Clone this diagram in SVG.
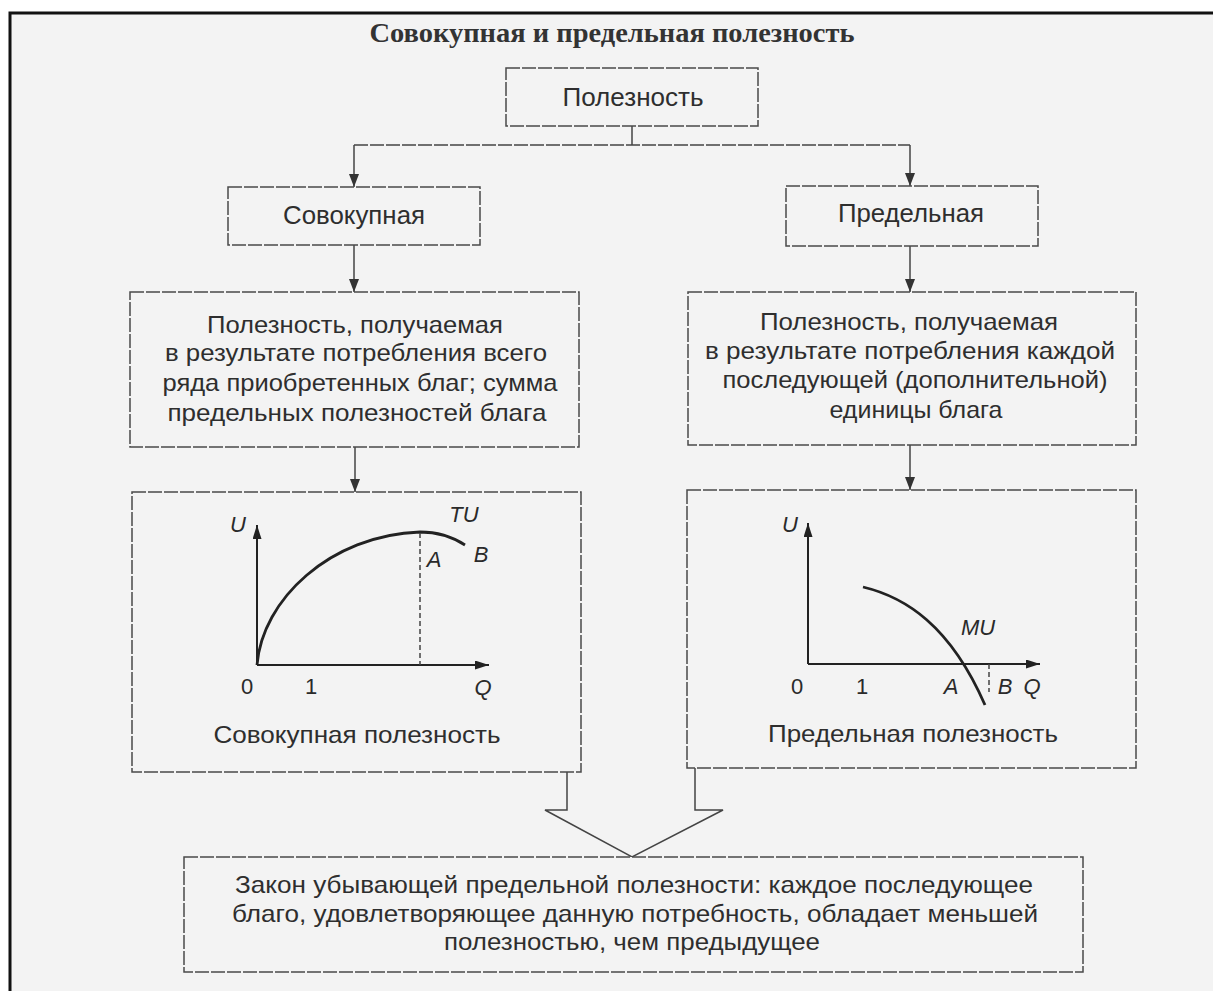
<svg xmlns="http://www.w3.org/2000/svg" width="1213" height="991" viewBox="0 0 1213 991">
<defs>
<marker id="arr" markerUnits="userSpaceOnUse" viewBox="0 0 13 10" refX="13" refY="5" markerWidth="13" markerHeight="10" orient="auto">
<path d="M0,0 L13,5 L0,10 z" fill="#333"/>
</marker>
<marker id="axarr" markerUnits="userSpaceOnUse" viewBox="0 0 14 9" refX="14" refY="4.5" markerWidth="14" markerHeight="9" orient="auto">
<path d="M0,0 L14,4.5 L0,9 z" fill="#222"/>
</marker>
<style>
.box{fill:#f3f3f3;stroke:#4a4a4a;stroke-width:1.5;stroke-dasharray:14 2}
.t{font-family:"Liberation Sans",Arial,sans-serif;font-size:24px;fill:#2e2e2e;text-anchor:middle}
.h{font-size:25px}
.lbl{font-family:"Liberation Sans",Arial,sans-serif;font-size:22px;fill:#2a2a2a;text-anchor:middle;font-style:italic}
.num{font-family:"Liberation Sans",Arial,sans-serif;font-size:22px;fill:#2a2a2a;text-anchor:middle}
.con{fill:none;stroke:#444;stroke-width:1.5}
.ax{fill:none;stroke:#222;stroke-width:2}
.crv{fill:none;stroke:#222;stroke-width:2.8}
.dash{fill:none;stroke:#444;stroke-width:1.5;stroke-dasharray:5 3}
</style>
</defs>
<rect x="0" y="0" width="1213" height="991" fill="#ffffff"/>
<rect x="10" y="13" width="1203" height="978" fill="#f3f3f3"/>
<path d="M10,991 L10,13 L1213,13" fill="none" stroke="#111" stroke-width="3"/>

<text x="612" y="42" font-family="'Liberation Serif','Times New Roman',serif" font-size="28" font-weight="bold" fill="#333" text-anchor="middle" textLength="485" lengthAdjust="spacingAndGlyphs">Совокупная и предельная полезность</text>

<g id="connectors">
<path class="con" d="M632,126 L632,145"/>
<path class="con" d="M354,145 L910,145" stroke-dasharray="14 2"/>
<path class="con" d="M354,145 L354,187" marker-end="url(#arr)"/>
<path class="con" d="M910,145 L910,186" marker-end="url(#arr)"/>
<path class="con" d="M354,245 L354,292" marker-end="url(#arr)"/>
<path class="con" d="M910,246 L910,292" marker-end="url(#arr)"/>
<path class="con" d="M355,447 L355,492" marker-end="url(#arr)"/>
<path class="con" d="M910,445 L910,490" marker-end="url(#arr)"/>
<path class="con" d="M567,772 L567,810 L545,810 L632,857 L723,810 L695,810 L695,768"/>
</g>

<g id="node-utility">
<rect class="box" x="506" y="68" width="252" height="58"/>
<text class="t h" x="633" y="106" textLength="141" lengthAdjust="spacingAndGlyphs">Полезность</text>
</g>

<g id="node-total">
<rect class="box" x="228" y="187" width="252" height="58"/>
<text class="t h" x="354" y="224" textLength="142" lengthAdjust="spacingAndGlyphs">Совокупная</text>
</g>

<g id="node-marginal">
<rect class="box" x="786" y="186" width="252" height="60"/>
<text class="t h" x="911" y="222" textLength="146" lengthAdjust="spacingAndGlyphs">Предельная</text>
</g>

<g id="node-total-desc">
<rect class="box" x="130" y="292" width="449" height="155"/>
<text class="t" x="355" y="333" textLength="296" lengthAdjust="spacingAndGlyphs">Полезность, получаемая</text>
<text class="t" x="356" y="361" textLength="382" lengthAdjust="spacingAndGlyphs">в результате потребления всего</text>
<text class="t" x="360" y="391" textLength="395" lengthAdjust="spacingAndGlyphs">ряда приобретенных благ; сумма</text>
<text class="t" x="357" y="421" textLength="379" lengthAdjust="spacingAndGlyphs">предельных полезностей блага</text>
</g>

<g id="node-marginal-desc">
<rect class="box" x="688" y="292" width="448" height="153"/>
<text class="t" x="909" y="330" textLength="298" lengthAdjust="spacingAndGlyphs">Полезность, получаемая</text>
<text class="t" x="910" y="359" textLength="410" lengthAdjust="spacingAndGlyphs">в результате потребления каждой</text>
<text class="t" x="915" y="388" textLength="385" lengthAdjust="spacingAndGlyphs">последующей (дополнительной)</text>
<text class="t" x="916" y="418" textLength="173" lengthAdjust="spacingAndGlyphs">единицы блага</text>
</g>

<g id="node-total-graph">
<rect class="box" x="132" y="492" width="449" height="280"/>
<path class="ax" d="M257,665 L257,525" marker-end="url(#axarr)"/>
<path class="ax" d="M257,665 L489,665" marker-end="url(#axarr)"/>
<path class="crv" d="M257,665 C262,600 330,535 420,532 Q445,532 465,545"/>
<path class="dash" d="M420,533 L420,665"/>
<text class="lbl" x="238" y="532">U</text>
<text class="lbl" x="464" y="522">TU</text>
<text class="lbl" x="434" y="567">A</text>
<text class="lbl" x="481" y="562">B</text>
<text class="num" x="247" y="694">0</text>
<text class="num" x="311" y="694">1</text>
<text class="lbl" x="483" y="695">Q</text>
<text class="t" x="357" y="743" textLength="287" lengthAdjust="spacingAndGlyphs">Совокупная полезность</text>
</g>

<g id="node-marginal-graph">
<rect class="box" x="687" y="490" width="449" height="278"/>
<path class="ax" d="M808,664 L808,523" marker-end="url(#axarr)"/>
<path class="ax" d="M808,664 L1040,664" marker-end="url(#axarr)"/>
<path class="crv" d="M863,587 C905,597 950,625 985,705"/>
<path class="dash" d="M989,664 L989,692"/>
<text class="lbl" x="790" y="532">U</text>
<text class="lbl" x="978" y="635">MU</text>
<text class="num" x="797" y="694">0</text>
<text class="num" x="862" y="694">1</text>
<text class="lbl" x="951" y="694">A</text>
<text class="lbl" x="1005" y="694">B</text>
<text class="lbl" x="1032" y="694">Q</text>
<text class="t" x="913" y="742" textLength="290" lengthAdjust="spacingAndGlyphs">Предельная полезность</text>
</g>

<g id="node-law">
<rect class="box" x="184" y="857" width="899" height="115"/>
<text class="t" x="634" y="893" textLength="798" lengthAdjust="spacingAndGlyphs">Закон убывающей предельной полезности: каждое последующее</text>
<text class="t" x="635" y="922" textLength="806" lengthAdjust="spacingAndGlyphs">благо, удовлетворяющее данную потребность, обладает меньшей</text>
<text class="t" x="632" y="950" textLength="376" lengthAdjust="spacingAndGlyphs">полезностью, чем предыдущее</text>
</g>
</svg>
